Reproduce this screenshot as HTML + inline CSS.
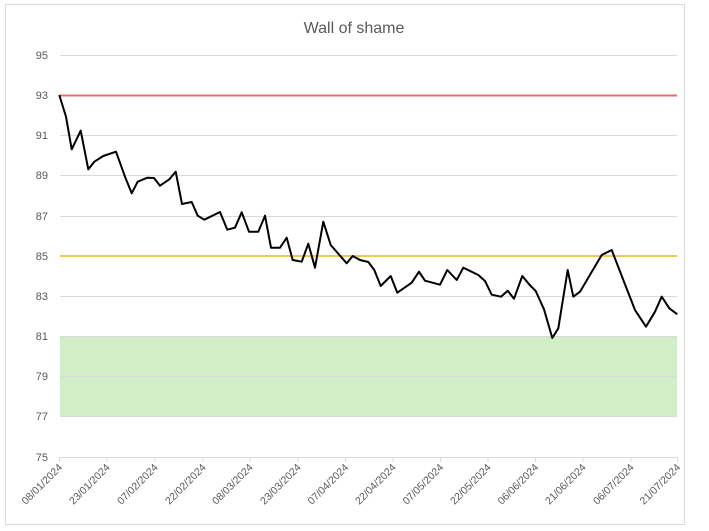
<!DOCTYPE html>
<html><head><meta charset="utf-8"><style>body{margin:0;background:#fff}svg{display:block;font-family:"Liberation Sans",sans-serif}</style></head><body>
<svg width="709" height="531" viewBox="0 0 709 531">
<rect x="0" y="0" width="709" height="531" fill="#fff"/>
<rect x="5.5" y="4.5" width="679" height="520" fill="#fff" stroke="#d9d9d9"/>
<text x="354" y="33" text-anchor="middle" font-size="16" fill="#595959">Wall of shame</text>
<rect x="60" y="336.4" width="617" height="80.4" fill="#d0efc6"/>
<g stroke="#d9d9d9" stroke-width="1">
<line x1="60" x2="677" y1="55.5" y2="55.5"/>
<line x1="60" x2="677" y1="95.5" y2="95.5"/>
<line x1="60" x2="677" y1="135.5" y2="135.5"/>
<line x1="60" x2="677" y1="175.5" y2="175.5"/>
<line x1="60" x2="677" y1="216.5" y2="216.5"/>
<line x1="60" x2="677" y1="256.5" y2="256.5"/>
<line x1="60" x2="677" y1="296.5" y2="296.5"/>
<line x1="60" x2="677" y1="336.5" y2="336.5"/>
<line x1="60" x2="677" y1="376.5" y2="376.5"/>
<line x1="60" x2="677" y1="416.5" y2="416.5"/>
<line x1="60" x2="677" y1="457.5" y2="457.5"/>
<g>
<line x1="59.5" x2="59.5" y1="457" y2="462"/><line x1="107" x2="107" y1="457" y2="462"/><line x1="155" x2="155" y1="457" y2="462"/><line x1="203" x2="203" y1="457" y2="462"/><line x1="250" x2="250" y1="457" y2="462"/><line x1="298" x2="298" y1="457" y2="462"/><line x1="345.5" x2="345.5" y1="457" y2="462"/><line x1="393" x2="393" y1="457" y2="462"/><line x1="440.5" x2="440.5" y1="457" y2="462"/><line x1="488" x2="488" y1="457" y2="462"/><line x1="535.5" x2="535.5" y1="457" y2="462"/><line x1="583" x2="583" y1="457" y2="462"/><line x1="631" x2="631" y1="457" y2="462"/><line x1="677.5" x2="677.5" y1="457" y2="462"/>
</g></g>
<line x1="60" x2="677" y1="95.5" y2="95.5" stroke="#e46c6c" stroke-width="2"/>
<line x1="60" x2="677" y1="256" y2="256" stroke="#f0c850" stroke-width="2"/>
<g font-size="11" fill="#595959" text-anchor="end">
<text x="48" y="59">95</text><text x="48" y="99">93</text><text x="48" y="139">91</text><text x="48" y="179">89</text><text x="48" y="220">87</text><text x="48" y="260">85</text><text x="48" y="300">83</text><text x="48" y="340">81</text><text x="48" y="380">79</text><text x="48" y="420">77</text><text x="48" y="461">75</text>
</g>
<g font-size="10.5" fill="#595959" text-anchor="end">
<text transform="translate(63,468) rotate(-45)">08/01/2024</text>
<text transform="translate(110.5,468) rotate(-45)">23/01/2024</text>
<text transform="translate(158.5,468) rotate(-45)">07/02/2024</text>
<text transform="translate(206.5,468) rotate(-45)">22/02/2024</text>
<text transform="translate(253.5,468) rotate(-45)">08/03/2024</text>
<text transform="translate(301.5,468) rotate(-45)">23/03/2024</text>
<text transform="translate(349,468) rotate(-45)">07/04/2024</text>
<text transform="translate(396.5,468) rotate(-45)">22/04/2024</text>
<text transform="translate(444,468) rotate(-45)">07/05/2024</text>
<text transform="translate(491.5,468) rotate(-45)">22/05/2024</text>
<text transform="translate(539,468) rotate(-45)">06/06/2024</text>
<text transform="translate(586.5,468) rotate(-45)">21/06/2024</text>
<text transform="translate(634.5,468) rotate(-45)">06/07/2024</text>
<text transform="translate(681,468) rotate(-45)">21/07/2024</text>
</g>
<polyline fill="none" stroke="#000" stroke-width="2" stroke-linejoin="round" points="59.3,95 66,116.7 71.7,149.3 80.7,130.7 88.3,169.3 94.3,161.7 103.3,156 116,151.7 125,176.7 131.7,193.3 137.7,181.7 147.3,177.7 154,178 160,185.7 169.3,179.3 175.7,171.7 182,204 191.7,202 197.7,215.7 204.3,219.7 220,212 227.3,229.7 235,227.7 241.7,212.3 249,231.7 258.3,231.7 265,215.7 271,247.7 280,247.7 286.7,237.7 292.7,260 301.7,261.7 308.3,243.7 315,267.7 323.3,221.7 330.7,245 346.7,263.3 352.7,256 360,260 368.3,262 374.3,270 380.7,286 390.7,276 397.3,292.7 411.7,282.7 419,271.7 425,280.7 440,284.7 447.3,270 456.7,280 463.3,267.7 478.3,275 485,281 491.7,294.7 501,296.7 507.7,290.7 514,298.7 522.3,276 530,285.3 535.7,291 544,309.3 552.3,338 558.3,328.3 567.7,270 573.3,296.7 580,291.7 601.7,255 611.7,250 623.3,280 635,310 646,326.7 655,311.7 661.7,296.7 669.3,308.3 677.3,314.3"/>
</svg>
</body></html>
